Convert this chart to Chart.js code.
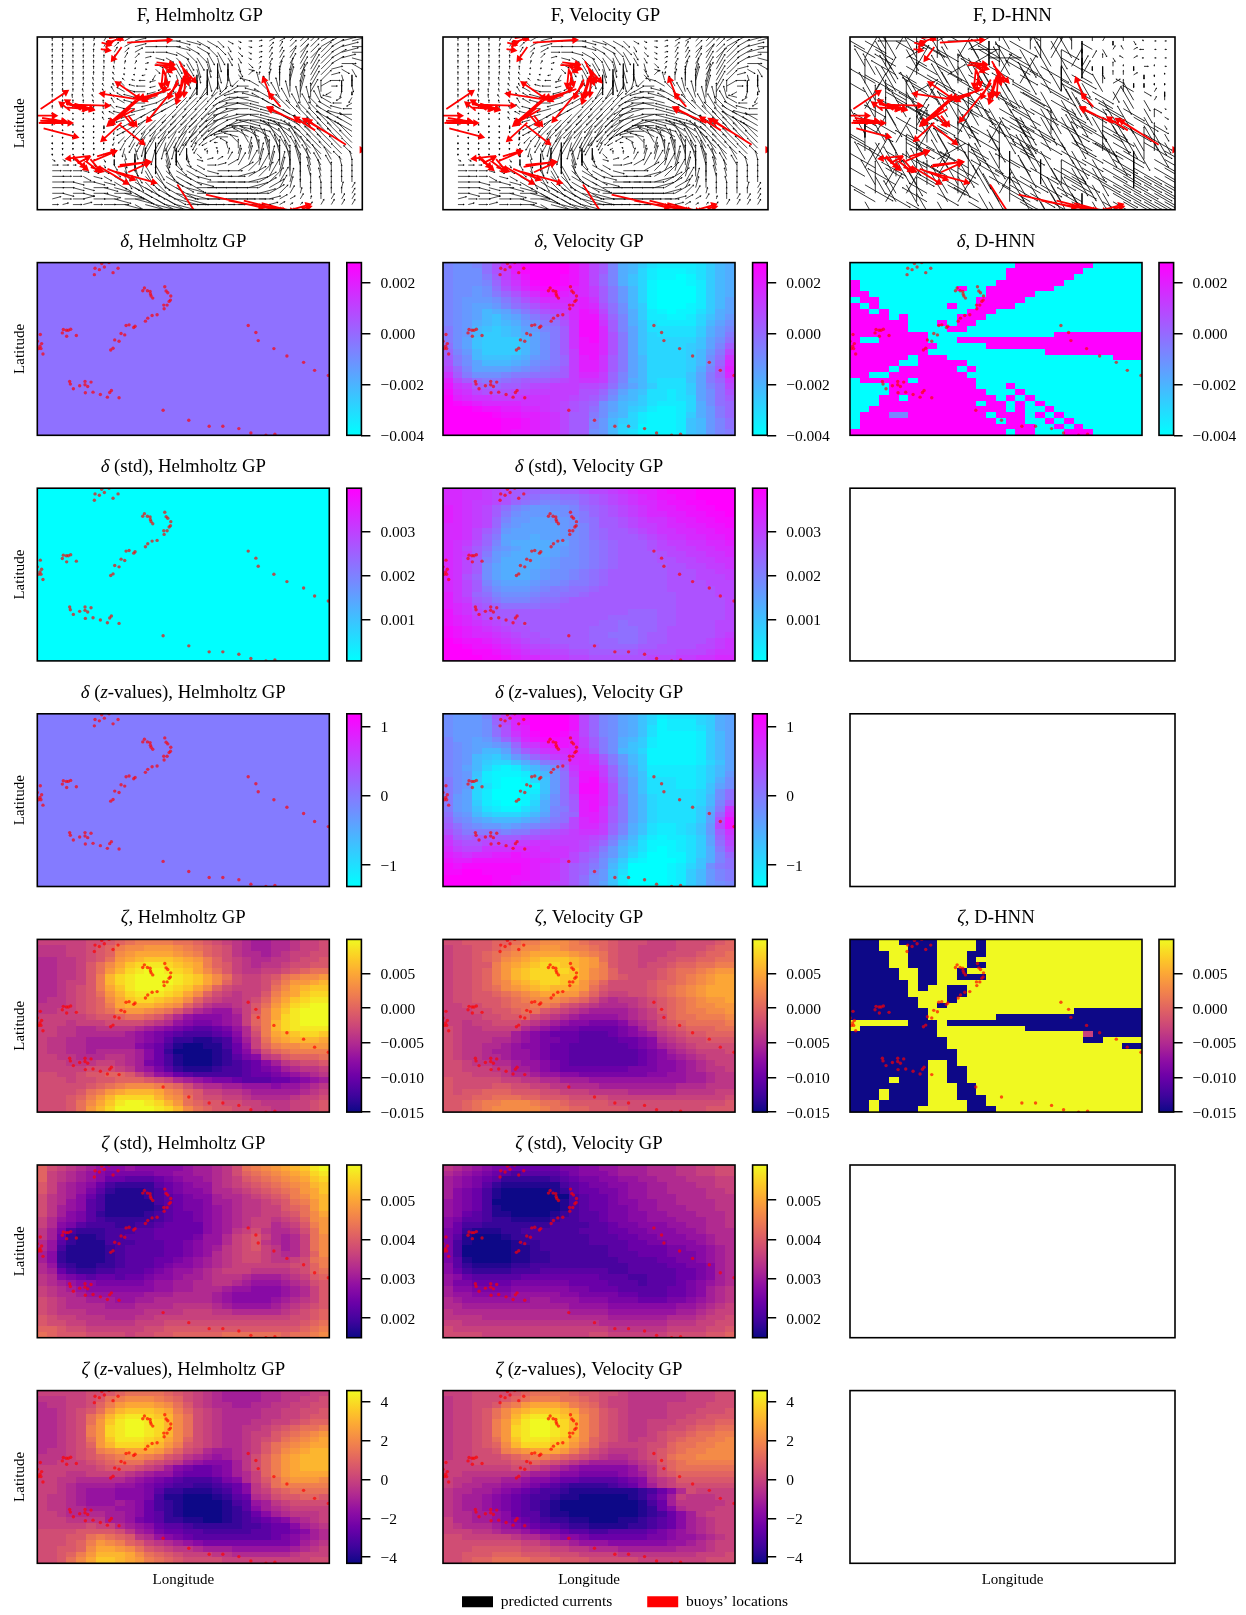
<!DOCTYPE html>
<html><head><meta charset="utf-8">
<style>html,body{margin:0;padding:0;background:#fff;width:1246px;height:1615px;overflow:hidden;position:relative}canvas{position:absolute}</style>
<script src="https://cdn.jsdelivr.net/npm/chart.js@4"></script></head><body>
<script>
// Levels: a = bottom of the colour bar, z = top of the colour bar (30 x 30 cells, spaces ignored).
const ZETA_H=["mmmmm nnopq rrrrq qponm lkjjk klmmn","lllmm noprs sttts rqpon lkjjk klmmn","lllmm nopst uuuut srpon lkkjk lmmnn","kkllm noqtu vwwwv utrpn mlkkl lmnno","kkllm oqsuw xyyxw vurpo mlkll mnnoo","kkllm oqtvx yzzyx wusqo mllmm nopqq","kkllm orvxy zzzzy xwusq nmmno qrsst","kklmm orvxy zzzzy xwusp nmmnp rttuv","kklmn oruwy zzzyx wuspn mmmnq suvww","kklmn oqtvx yyyxw uspnm lmmor tuwxx","kllmn opsuw xxwvu spnml lmnps uwxyy","lllmn opruv vvuts pnlkk lmoqt vxyzz","llmmn opqst tsrqo mkjii kmoru wyzzz","mmmmm noopq qpomk ihhhi jmpru xyzzz","mmmlm mmnnn nmlki hgghi jmprv xyzzz","mmllk kllll kjihg feefg ikorv xyyyy","mmllk kkkkj ihgfe dddef hknru vwxxw","mllkk jjjjj ihgec cbbcd gjmqt uvvvu","mllkk jjjjj hgfdb aabbd fimpr ssttt","mllkk jkkkk jhfca aaabc fhknp qrrrr","mmllk kkllk jhfdb aaabc eghlm opppq","mmmll lmmlk jgfdb aaabc defhj lmnno","mmmmm nnnml jigec bbbcd defgh jkllm","nnmmn ooppo mkihf edddd deffg hijkl","nnnmn noopp ponmk jihgg feeef fghij","nnnnn opqrs ssrqp nlkkj jiiih iijkl","nnnno qrtuv vvusr pomml lkjjj jjklm","nnnop rtvxx xxvts qonnm mlkkk klmmn","nnnoq suwyz zyxvt qpoon nmmll lmmno","nnnoq tvxzz zzyxv sqpoo nnmml lmmno"];
const ZETA_V=["nnooo ppqrr sssrq pponn nmmmn nnnop","mnnoo pqrss ttsrr qponn mmmmn nnopp","mnnop qrstu uuuts rqonn mmmnn noppq","mnnop qstuv wwwvu tqonn mmnno oppqq","mnnoo rtuvw xxwvu tronn mnnop pqqrr","mnnop rtvwx xxxwu srpnn nnopq qrstt","mnnop rtvwx xxwwu srpon nnopq rstuu","mnnop rsuvw xxwvt rpnnn noppq rstuu","mnnop qstuv wvvut qonnn nopqr stuuu","mnnoo pqrst uuttr pnmmn nopqr stuuu","mnnoo opqrs ssrqp nlkll mnopq rsttu","mmnno opqqr rqonm lkkkl mnopq rsstt","mmmnn oopqq onmlk jjjjk lmopq rrsst","mmmmn noopn mlkji iiijk lmnpq qrrrs","mmlmm nnnml kjihh ggghj klnop qqqqr","nmllm mmmkj ihggf fffgh jlmno pppqq","nmlll lljih gfffe eefgh ijlmn ooppp","nmlll kkjih ggffe eeeff ghklm nnooo","nmllk kjihh gffee eeeef ghjkl mnnnn","nmllk jjiih gffee eeeee fghjk lmmmn","nmllk kjiih gffee eeeee fghij klmmm","nnmll kkjii hgfee eeeee fghhi jklmm","nnmmm lljji hgfff ffffg gghhi jkllm","nnnmm mlkkj iihhg ggggg ghhii jjkll","onnnn nmmll kkjjj iiiii iiiii jjkll","onnnn oonnm mllkk kjjjj jjjjk kklll","onoop ppooo nnmmm llllk kkkkl lllmm","ooopp qqqpp ooonn nnmmm mmmmm mmmmn","oopqr rsssr qqpoo oonnn nnnnn nnnno","oopqr sssss rqqpp oooon nnnnn nnooo"];
const ZSTD_H=["pnmlk jihhi hhhhh ijjkl nqrst uvwyz","pmlkj ihggg gghhi ijjkl npqrs tuvxy","pmlkj ihffe eefgh iijkl mopqr stuwx","omkji hfdcc ccefg hiikl mnopq rstvw","omkji gecbb bcdfg hhikk lmnop qrtuw","nlkjh fdbbb bcdef ghhjk klmno prsuv","nlkih edbbb bbdef gghjj kllmn oqrtv","nljih edbbb bbcef gghij kllmm opqtv","nljhg ecbbb bcdef fghij kllmm noqsu","mkihg edccc ccdef fghij klmml mnpst","mkhge dddcc ddeff ffhij klmmk lmort","ljgdc ccddd eefff ffhij lmnlk klnqt","ljfcb bcdde eefff fgiik mnomk jkmqs","kiecb bbddd eeeff ghiik mnolk jkmqs","kidbb bbcde eeeff ghijl mnoml jkmqs","jhcbb bbcde eeeff ghikl mnnml kkmps","jhcbb bbcde eeffg hijkl mnnml lmnqr","kidcb bccde eefgh hijkl mmmmm mnnpr","kjfdc cddee efghi ijklm mmlll lmnpq","lkhgf effef fghhi jjkll lkjjj klmop","lkjih hgggg ghiij jkkll kjiii jklno","mlkji hhhhh hhiij jkkkj iihhh ijkmo","mlkkj iiiii ijjjk kkkji hhhhh ijkmo","nmlkk jjjii jjkkk kkkji hhhhi jklmo","nmlkk kkjjj kkkkl lllkj iiiij klmno","nmlll kkkkk kllll mmmll kkkkk lmnop","onmml llkkk llmmm mmmmm mmmmm mnnop","onnmm lllll mmmnn nnnnn nnnnn nnopq","pponn mmmmm mnnoo ooooo ooooo oopqr","qpooo nnnnm nnoop ppppq qqqqq pqqrs"];
const ZSTD_V=["lkjih ggfff ffggh hiijj jkkkl lmmnn","kjihg fedee eefgh hhijj jkkkl lmmnn","jihgf ecccc cdefg ghhii jjkkk lllmm","jihge cbbbb bbdef gghhi ijjkk kllmm","jhgfd baaaa abcef fgghi ijjkk kkllm","jhgfd baaaa aaade ffghi ijjjk kklll","ihgfd aaaaa aabde ffghh iijjk kkkll","ihgfd baaaa aabde ffggh iijjj kkkll","ihfed bbaaa abcde efggh hiijj jkkkl","hgeed ccbbb bcdde efggh hiiij jjkkl","hfddc ccccc cdddd eefgg hhhii jjkkl","gfcbb bccdd dddde eeffg ghhhi ijkkk","gebaa abccd ddddd eeeff gghhh iijkk","gdbaa aabcc ddddd eeeef fgghh hijkk","gdaaa aabbc ddddd ddeef fffgg hhijk","gdaaa aabbc cdddd ddeee fffgg ghijk","gebaa aabbc cdddd dddee eeffg ghijk","hecbb bbccd ddddd dddde eeeff gghjk","hfdcc ccddd eeeee eedde eeeef fghjk","ihfee eeeff fffff feeed deeef fghjk","iggff ffggg gggff ffeee deeef ghijk","jhhgg gghhh hhhgg fffee eeeff ghjkl","jiihh hhiii iihhg gggff eeeff ghjkl","kjiii iiiij jiiih hhggg fffgg hijkl","kkjjj jjjjj jjjii iihhh hhhhi ijklm","lkkkk kkkkk kkkjj jjiii iiiij jklmm","llllk kkkkk kkkkk kkjjj jjjkk klmmn","mmlll lllll lllll lkkkk kkkll lmmnn","nmmmm mmmmm mmmmm mmlll lllmm mmnno","nnnnm mmmmm mmmmm nnmmm mmmnn nnoop"];
const ZZ_H=["mmmmm nnopq qqqpo nmlkj jjjkk lllmm","lllmm noqrs ssrqp nmlkj jjjkk llmmn","kllmm nprtu uutsq omlkk jjkkl lmmnn","kklmn oqtvw wwvur pnmlk kkkll mmnno","kklmn qsvxy yxwvs qnmlk kkkll mmnoo","kklmn qtwyz zyxvs qnmlk kkllm mnopp","kklmn rtxyz zyxvs qnmlk kllmn opqqr","kklmn rtxyz zyxvs qnmlk klmmo pqrst","kklmn qtwyy yxwus pnmlk klmno qrstu","kklmn ptvxx xwvtr onmlk klmoq rstuu","kllmn orstu uutrp nmkjj klmoq stuvv","lllmn opqrs srqon lkjij klnpr tuvvv","llmmm nopqq qonml jihhh jlnpr tuvvv","mmmmm mnooo nmljh gffgh jlnpr tuvvv","mmmll mmmml kjiig fffgh jkmpr tuuuu","mmllk kkkkj ihgfe dddeg hkmoq sttts","mmlkj jjjii hgfed dccde fhlnq rrrrr","mmlkj iiihh hgecc bbbcd fhlmo pqqqq","mllkj iiihh hgdbb aaabc efkln ooppo","mllkj iiiji hfdcb aaaab deijl mnnnn","mllkk jjjii hfdcb aaaab cehjk lmmmm","mmlkk kkjji hfecb aaaab cdfhj klllm","mmmll lljji gfecc bbaab cdefg hjklm","mmmmm nmmkj ihfee dcccc cddef fhjkl","nnnno ooonl jigff eeddd ddeef fghjk","nnnoo qrqpo lkihg feeee eeeef ghijk","nnnop rtsrp omlkj ihggg ggggg ghjkl","nnoop suuts qonml lkjjj iiiii ijklm","nnopr tvvvu sqpon mmmll kkkkk klmmm","nnoqs uwwvu trqpo nnnnm mmmmm mmmnn"];
const ZZ_V=["mmmnn nnopq qqqpo onnml lllll mmmnn","lmmnn nopqr rrqqp onmml lllll mmmnn","lmmnn oqrtu uutrq pnmml lllmm mmnnn","lmmno qsuvw wwvur qonml lllmm mnnno","lmmno qsvxy yxwvs qonml lllmm nnooo","lmmno rtwyz zyxvs qonml lmmmn noopp","lmmno rtxyz zyxvs qonml lmmnn oppqq","lmmno rtxyz zyxvs qonml lmnoo pqqrr","lmmno qtwyy yxwus ponml mmnop qqrrs","lmmno psvxx xwvtr pnmmm mnnpq qrrss","lmmnn orstu uutrp nmlll mnopq rrsss","lmmnn nopqr rqpon mlkkl mnoqr rssss","mmmnn nnoop onmlk jjjjk lmopq rrrrr","mmmmm mmnnm lkjih hhhhi klnpq qqqqq","mmlll lllkj jihhg ggghi jlnop ppppp","mllkk kjjih hgffe eeefg hklmo ooooo","mlkkj jiihg fedcc ccdef hjlmn nnnnn","lkkjj ihgfe ddcbb bbbbb cdfhk nmmmm","lkjji hgfed dcbba aaaab cegjm lllmm","lkjji hgfed cbaaa aaaaa bdfjl llllm","lkjji hgfed cbaaa aaaaa bcfhk lllmm","lkkjj ihfee cbbaa aaaaa bcdfh jlmmm","mkkjj ihgfe dccbb aaabb cdefh jklmm","mlkkk jihgf eedcc bbbbc cdefh jklmm","mmmll kjjih ggfee ddeee efghi jklmm","nnmmm mmlkk jihhg fffff fgghi ijklm","nnnnn nnnmm lkkji iihhh hhhii jklmm","nnnoo ooonn nmmll kkkjj jjjjk kklmm","nnooo pppoo onnnm mmmll lllll lmmmn","nnopp qqqqp ppooo nnnnn mmmmm mmnnn"];
const DELTA_V=["mllmo ruwyz zzzxv sqmih fdccc cdfhi","mlllo rtwyz zzzxv sqmih ecbbb cdfhi","mllln qtvxz zzyxv spmig ecbba bdfhi","mlllm psuwy zzyxv spmig ebaaa bcfhi","mllkl ortvx yyxwv tqnkh ebaaa acfhi","mllkl nprtv xxwvv tqnkh ebaaa acfhi","mlkkk lnprt vvvvw uqnkh ebaaa acfhj","mlkjj kmopr tuuvw vrolh fbaaa bcfhj","mlkjh ijlnp rstvx wsoli fcbab bdfij","mlkjh gijln pqsvx xtpmi fccbb cegik","mlkih ghikl noruy yuqmi gdccc cehjl","nlkhg fghjk mnquy yvqmj gdddd dfikm","nlkhf fghij lnquy yvrnj geddd dfikn","nljgf fffhj lnqux yvrnj geeee egjlo","oljgf fffhj lnqux xvrnj geeee fgjmq","pmkhf fffhj lnqtx xvrnj geeee fhkns","qnlhg gghik lnptw xuqnj heeee fhlou","rnljh hhijl mnptw wuqnj heeee fhlpv","spmjj jjklm noqtw wuqnj heeee fimqw","uqnll lmnno opqtv vtpmj heeee gjnqv","wsqon nopqq qrstu utpmi heddd gjnpt","xutqp pqqrs sttts srolj hfddd fjmos","yvusr rrsst ttttr rpmjh gddcd fjlor","zwvuu tttuu uttsr qolih fddcd ejloq","zyxwv vvvuu utsrq pljhg fdccc eilop","zzzyx xwwvv utsrq oljhf ecbbc eiknp","zzzzz yxxww vusqq nlihe cbbbc fiknp","zzzzz zyyxw vusqq mkhfe cbbbc ghkmo","zzzzz zyyxw vusqq mkhee bbbbc ghkmo","zzzzz zyxxw vusqq lkhed bbbbc ghkmn"];
const DZ_V=["lkkkm qtwyz zzzxs pmlji gecdd defij","lkkkl psvxz zzzxs pmlji gebcc cefij","lkkkl orvwz zzzxs pmlji gdbcc cdfij","lkkkl oruwy zzyws pmlji gdbbb bcfhj","mkkjk mpsvx yyxwt qnlih fcbbb bcfhj","mlkjj klptu wxxwt qnlig fcbbb bcfhj","mlkjh hjnqs uvvwu rnlhg ebbbb bcfhj","mlkhg fhkmp rtuvv uqnkh fbbbb bcfhj","mlkhf eegik norvw vrnkh fbbbb bcegj","mljhe cbcfh jlpuw wtpli fcccc cdfhj","mlkgc bbbcf hkotx xtpli gcccc cdfhk","nlkfc baabe gkosx yuqmj gdddc cdfil","nlked baaab gkosy yvrmj gdddc cdgjl","nljec aaabc gkosy yvrmj gdddd deglo","nkjec aaabd hlorx xvrnj heddd dehlo","nkjfc baabe iloqw xvrnj heddd dehmq","nkjgd cbbdf imnqw xuqnj heddd dfinu","olkhf eeefh jmopw wuqnj heddd dfjpv","pmlji hhhij lnosv wuqnj heddd dfjrx","qomlk kjklm noqsv vtpmi gdccd egksx","rpnnn nmnnp qrstu utpmi gdccd egkqu","tqpqq qqqrr ssttt srnkh ecbcc dfjpt","usrrs ssttu uttts rpmig dbbbc dfjos","vtssu uuvvv uuuts qnkhf dbabc dfinr","wvuvv wwxwv vuusq pmkhe caabb dfimp","xwwxx xxxxw wvtsq olifc baaab dgimo","yxyyy yyyxw vusqp nlhea aaabc eglno","yyzzy yyyxw vusqp mkgda aaabc fhkmn","zzzzz yyxxw vusqo lkgca aaabc fhkmn","zzzzz yyxww vtsqo ljgca aaabc fhklm"];
const DSTD_V=["vvuut srqqp ppqqr sstuv wwxyy yzzzz","vvuut srqpo nnoop qrstu vwxxy yzzzz","vvutt srpon mmnnp qrstu vvwxx yyzzz","wvuts qomlk kllmo pqrst uvwwx xyyzz","wvuts qnlkk kklmn pqrst uvvww xxyyz","wvuts pmkkj jkkln oqqrs tuuvw wxxyy","vvuts plkjj jjklm oqqrs ttuvv wwxxy","vvusq okjjj jjklm opqqr stuuv vwwxx","vvusp njjji jjklm opqqq rstuu vvwwx","vutrp mjiii ijjlm nopqq qrstt uuvvw","vusqo lkjii ijklm nopqq qrsst tuuvv","vutqn kjiii ijklm nopqq qqrss ttuuv","vusqm kiiii jkllm nopqq qqrrs sttuu","vusql jiiii jkllm nopqq qqqrr ssttu","vusql jiiij kllmn opqqq qqqrr rsstt","vurpl jiiij kllmn opqqq qqqrr rssst","vusqm kjjjk llmnn opqqq qqqrr rrsss","vusqn lkkkl mnnoo pqqqq qqqrr rrrss","wuspo mlllm nnoop qqqqq qqqqr rrrss","wutqp nmmmn oopqq qqqqq qqqqr rrrrs","wvurq poooo ppqqq qqqqq qqqqr rrrrs","xvusr qqqqq qqqqq qqqqp ppqqr rrrrs","xwvtr qqqqq qqqqq qqppp ppqqr rrrrs","xwvut srrqq qqqqq qppop ppqqr rrrss","yxwvu tsrrq qqqqq pppoo ppqrr rrrss","yxwvv utsrr qqqqq ppooo pqqrr rrrst","zyxxw vutsr rqqqq pppoo pqqrr rrstu","zzyxx wvuts srrqq qpppp qqrrr rsstu","zzzyy xwvut tssrr qqqqq rrrrs sstuu","zzzzy yxwvv uttss rrrrr rssst tuuvv"];
const DELTA_D=["aaaaa aaaaa aaaaa aazzz zzzzz aaaaa","aaaaa aaaaa aaaaa azzzz zzzza aaaaa","aaaaa aaaaa aaaaa azzzz zzzaa aaaaa","zaaaa aaaaa aaaaa zzzzz zzaaa aaaaa","zaaaa aaaaa azaaz zzzzz zaaaa aaaaa","zzaaa aaaaa aaaaz zzzza aaaaa aaaaa","azzaa aaaaa aaazz zzzaa aaaaa aaaaa","zazaa aaaaa zaazz zzaaa aaaaa aaaaa","zzaza aaaaa aazzz aaaaa aaaaa aaaaa","zzzza zaaaa azzza aaaaa aaaaa aaaaa","zzzzz zaaaz azzaa aaaaa aaaaa aaaaa","zzzzz zaaaa zzaaa aaaaa aaaaa aaaaa","zzzzz zzzaa aaaaa aaaaa azzzz zzzzz","zaazz zzzaa azzzz zzzzz zzzzz zzzzz","zzzzz zzzza aaaaz zzzzz zzzzz zzzzz","zzzzz zzzaa aaaaa aaaaa zzzzz zzzzz","zzzzz zazzz aaaaa aaaaa aaaaa aazzz","zzzzz aazzz zzaaa aaaaa aaaaa aaaaa","zzzza zzzzz zazaa aaaaa aaaaa aaaaa","zzaaz zzzzz zzaaa aaaaa aaaaa aaaaa","azzzz zazzz zzzaa aaaaa aaaaa aaaaa","aaaaz zzzzz zzzaa azaaa aaaaa aaaaa","aaaaz zzzzz zzzza aazaa aaaaa aaaaa","aaazz azzzz zzzzz azaza aaaaa aaaaa","aaazz zzzzz zzzaz zazaz aaaaa aaaaa","aazzz zzzzz zzzzz zazaa zaaaa aaaaa","azzzm mzzzz zzzza zzzaz azaaa aaaaa","azzzz zzzzz zzzzz azzaa zazaa aaaaa","azzzz zzzzz zzzzz zzzza azaza aaaaa","zzzzz zzzzz zzzzz zazza aazzz aaaaa"];
const ZETA_D=["aaazz aaaaz zzzaz zzzzz zzzzz zzzzz","aaazz zaaaz zzzaz zzzzz zzzzz zzzzz","aaaaz zaaaz zzaaz zzzzz zzzzz zzzzz","aaaaz zaaaz zzazz zzzzz zzzzz zzzzz","aaaaz zaaaz zzaaz zzzzz zzzzz zzzzz","aaaaa zzaaz zazzz zzzzz zzzzz zzzzz","aaaaa zzaaz zaaaz zzzzz zzzzz zzzzz","aaaaa azaaz zzzzz zzzzz zzzzz zzzzz","aaaaa azazz aazzz zzzzz zzzzz zzzzz","aaaaa azzzz aazzz zzzzz zzzzz zzzzz","aaaaa aazzz azzzz zzzzz zzzzz zzzzz","aaaaa aazza zzzzz zzzzz zzzzz zzzzz","aaaaa aaazz zzzzz zzzzz zzzaa aaaaa","aaaaa aaazz zzzzz aaaaa aaaaa aaaaa","zzzzz zaaaz aaaaa aaaaa aaaaa aaaaa","zaaaa aaaaz zzzzz zzzaa aaaaa aaaaa","aaaaa aaaaz zzzzz zzzzz zzzzm aaaaa","aaaaa aaaaa zzzzz zzzzz zzzza azzzz","aaaaa aaaaa zzzzz zzzzz zzzzz zzzaa","aaaaa aaaaa azzzz zzzzz zzzzz zzzzz","aaaaa aaaaa azzzz zzzzz zzzzz zzzzz","aaaaa aaazz azzzz zzzzz zzzzz zzzzz","aaaaa aaazz aazzz zzzzz zzzzz zzzzz","aaaaa aaazz aazzz zzzzz zzzzz zzzzz","aaaaz aaazz aazzz zzzzz zzzzz zzzzz","aaaaa aaazz zaazz zzzzz zzzzz zzzzz","aaaza aaazz zaazz zzzzz zzzzz zzzzz","aaaza aaazz zaaaz zzzzz zzzzz zzzzz","aazaa aaazz zzaaz zzzzz zzzzz zzzzz","aazaa aazzz zzaaa zzzzz zzzzz zzzzz"];
// Helmholtz panels show one nearly flat value.
const DELTA_H_VALUE=-0.0002, DSTD_H_VALUE=0.00006, DZ_H_VALUE=-0.02;
// Predicted currents: bearing in 15-degree steps (a up, g right, m down, s left) and length step.
const FIELD_DIR=["aaaab cdefg gghhi ijiig feedd deeff","aaaab cdefg gghii jjkjh fdcdd deefg","aaaaa bcdeg ghijj kkkji fccdd ddefg","aaaaa abcdf hijkk llkki ecccc ddefh","aaaaa aabcf ijkkl lmmlj dcccc cdegi","aaaaa axabg jkkll mlmkh cbbbc cdfik","aaaaa xwwtr olllm lmljd bbabc cdflm","aaaax xwvts ronnm mlnpt xaabb cdgmm","aaaax wwvts rqpoo oopqs uwaab cegml","aaaxx wwuts rrqqp ppqrs tvxab caqnm","aaxxw wvuts rqqpp ppqrs tuwxa axtqo","aaaax xwuts rqqpp ppqrs tuvwx xwusq","aaaaa xvtsr qqppp ppqrs ttuvw wvuts","aaaaa wutrq qpppp ppqrr sttuv vvuts","aaaaa wtrqp ppppp ppqqr sttuu vvuuu","aaamm mtqqp pppoo ppqrs ttttu uvvuu","aammm mnqpo oooop pqrst ttuuu vvvvu","ammmm mnpoo ooooo pqstu uuvvv vvvvv","mmmmm nooon mnnoo qsuvw wwwww vvvvv","mmmll nmnlm nlmmo qtxab xxwww vvvvv","mmlmm nmlmn mlmlj aabbb axxww wvvvv","iiiii kmlmn mlkkh fecbb baaxx wwwvx","gggii kkllk kkjii gfecc bbaax xwwxa","ggghi ijkkk kjiii hgged cbbaa xxaaa","gggih iikkj jiiih gggfe dcbaa xxaaa","gghgh hiiij jiiih ggggf edcba axaaa","gghhg hhiii iiihg ggggf eecba aaabc","ghghg hghii iihhg ggggg fedcb aaaac","fggfg ghghi iihhg ggggg gfeec baccc","gfgfg gghih hhhgg ggggg gfeed ccccc"];
const FIELD_LEN=["11111 22344 55555 43211 12234 45555","11111 22344 45555 54211 12234 45566","11111 12233 44555 55321 12234 45566","11111 11222 33455 55321 12345 56655","11111 11111 33455 55432 12345 66554","11111 11000 23455 65432 12345 66433","11111 11001 23455 65432 12345 66322","11111 11112 23445 54333 33456 65322","11111 11223 23445 54444 44566 64222","11111 12334 33445 55555 55566 54221","11111 22344 44456 66677 66666 54322","11111 12345 55677 88888 87666 65432","11111 12345 67788 99998 87776 66543","00000 12456 78899 99998 87777 66654","00000 12356 78999 98888 87777 76665","00000 12356 78998 87777 77788 77766","00000 01356 78887 65566 77888 87777","00000 01346 77764 43456 77888 88777","00000 01345 66653 21345 67888 88776","00000 01345 66542 10234 67788 87765","00000 01234 55432 11234 56777 77654","11000 12345 55432 22345 67777 66543","22111 12345 66543 33456 67777 65432","33322 23456 76654 44566 77776 54322","43333 34567 77665 55667 77765 43222","44444 45677 77776 66677 77654 32222","44445 56778 88877 77777 76543 22222","44445 66778 88888 77777 66432 22222","33444 56778 88888 77766 54322 12222","22333 45667 77777 66655 43211 12222"];
// D-HNN currents: clock direction (0 up, 3 right, 6 down, 9 left, a=10, b=11) and length step.
const DHNN_DIR=["45b49 4a23a 5b604 b1a50 b6016 05a33","a4b15 0a4b5 24a9b 50b14 06a51 b2933","1a5b2 b40a1 5b3a4 a5014 b6105 a2933","b50a4 1a4b5 2a40b 5a4b6 11660 06303","4b1a5 04a2b 45a1b 4a5b0 41a50 02660","0a4b1 a54b0 a4b5a 1b4a4 b5a02 a6666","a14b5 2a4b4 5a45b 4a54b 5a4b5 0a416","5b04a b1a5b 45ab4 54a45 b4a51 5b510","1b5a0 4a2b5 4a545 b45a4 54b5a 4b544","60a4b 1a4b5 0a454 5a545 4b545 a4504","4a0b5 1b4a0 5b454 54a54 54b45 4a545","b15a4 0b5a1 4a5b4 5a40b 54a54 5b455","a5b14 a0b4a 5b1a4 5b4a5 4b454 a5455","0a4b5 1a4b0 4a5b6 4a5b4 54a05 46b04","b1a50 4b2a5 b4a04 5b6a4 54544 a6044","1a4b5 0a1b4 a5b05 a4b54 54544 44a44","a5b0a 4b1a5 0b4a5 4b545 45444 44444","4b1a5 b0a4b 1a5b4 a5450 4a544 44444","a04b1 5a4b0 a5b14 54a54 56a54 44444","5a1b4 0a5b1 4a5b0 4a54b 4a544 44444"];
const DHNN_LEN=["68757 86758 67658 57686 53321 11000","75886 57687 86577 86755 64321 11100","86675 77586 75868 75686 75211 11000","57868 65786 86757 86876 53121 01100","86575 78658 67868 57586 74311 11100","67886 56787 58675 86867 54322 21100","85678 67586 76868 75875 86653 33211","68576 85768 67687 86878 57654 45311","76857 68657 86878 78687 87875 66420","58687 56786 78687 87878 78767 77521","86758 67587 68787 87878 87878 88741","75868 75687 86878 68767 78686 78862","68578 68757 68687 87686 78775 68873","87657 86587 57868 75867 86587 68774","56876 75868 67586 87678 76687 87885","78568 67585 86758 78687 87878 88886","65867 58676 87687 86878 87888 78888","87586 76857 68768 78686 78788 87889","68757 85687 76868 87878 68887 88989","76868 67586 87687 68787 77888 89999"];
// Buoys, in map units, and their observed drift (map-plot units, one third of a pixel).
const BUOY_LON=[245,267,225,238,253,294,279,223,373,368,382,390,391,393,398,434,438,443,452,451,447,441,431,432,411,396,383,376,345,341,327,318,303,314,284,297,279,272,130,127,139,145,152,140,169,61,65,52,60,63,56,69,195,149,151,160,179,195,203,213,196,219,241,262,269,274,297,429,506,567,608,656,692,737,764,684,707,714,761,800,850,883,924];
const BUOY_LAT=[33,30,47,51,43,47,60,66,106,114,114,116,124,130,136,102,115,120,130,142,146,157,157,168,186,188,196,205,220,224,216,218,242,246,261,265,286,291,230,240,232,232,229,250,248,245,272,265,280,287,287,303,385,385,393,407,398,395,400,387,419,417,424,432,418,412,434,471,501,519,519,526,539,546,543,218,239,263,287,309,328,352,367];
const BUOY_DX=[35,10,20,12,26,125,-25,20,45,50,40,20,-5,10,-5,30,40,15,-5,-25,-20,-5,-25,-90,-85,-60,-55,-60,-130,-80,-90,-75,-55,-70,25,20,-55,70,55,60,65,105,50,-25,-40,75,65,50,70,85,50,95,-65,30,35,30,40,25,60,50,30,80,75,115,88,85,55,55,165,160,120,90,60,48,20,-24,-30,-40,-90,-55,-85,-110,2];
const BUOY_DY=[-5,5,5,-5,-10,-8,35,3,5,0,10,15,50,40,50,55,45,45,70,80,60,45,50,110,25,30,15,5,-20,-55,75,65,45,40,30,25,50,55,15,5,15,3,15,-20,-25,-50,10,0,2,0,-5,25,8,30,30,-15,30,30,-25,-15,10,48,30,32,-14,-8,-25,85,38,30,30,25,12,-14,-5,-60,-35,-20,-40,-35,-50,-70,0];
const LON_MIN=52, LON_MAX=927, LAT_MIN=30, LAT_MAX=546;
// Colour-bar ranges and ticks.
const DELTA_RANGE=[-0.004,0.0028], DELTA_TICKS=[-0.004,-0.002,0,0.002];
const DSTD_RANGE=[0.00006,0.00399], DSTD_TICKS=[0.001,0.002,0.003];
const DZ_RANGE=[-1.31,1.18], DZ_TICKS=[-1,0,1];
const ZETA_RANGE=[-0.015,0.0099], ZETA_TICKS=[-0.015,-0.01,-0.005,0,0.005];
const ZSTD_RANGE=[0.0015,0.00589], ZSTD_TICKS=[0.002,0.003,0.004,0.005];
const ZZ_RANGE=[-4.32,4.58], ZZ_TICKS=[-4,-2,0,2,4];
const SERIF='"Liberation Serif","Times New Roman",serif';
Chart.defaults.animation=false; Chart.defaults.events=[];
Chart.defaults.font.family=SERIF; Chart.defaults.color='#000';
Chart.defaults.plugins.tooltip.enabled=false; Chart.defaults.plugins.legend.display=false;

const ROW_Y=[37,262.6,488.2,713.8,939.4,1165,1390.6], PLOT_H=172.7;
const COL_X=[37.3,443,850], HEAT_W=292, WIDE_W=325, CB_X=[346.8,752.6,1159], CB_W=14.6;
const PLASMA=['#0d0887','#41049d','#6a00a8','#8f0da4','#b12a90','#cc4778','#e16462','#f2844b','#fca636','#fcce25','#f0f921'];
const hex=h=>[1,3,5].map(i=>parseInt(h.substr(i,2),16));
function plasma(t){t=Math.min(1,Math.max(0,t))*10;const i=Math.min(9,Math.floor(t)),f=t-i,a=hex(PLASMA[i]),b=hex(PLASMA[i+1]);
 return `rgb(${a.map((v,k)=>Math.round(v+(b[k]-v)*f)).join(',')})`;}
function cool(t){t=Math.min(1,Math.max(0,t));return `rgb(${Math.round(255*t)},${Math.round(255*(1-t))},255)`;}
const cells=new Map();
function cellImage(color){const w=Math.ceil(HEAT_W/30),h=Math.ceil(PLOT_H/30);if(!cells.has(color)){const c=document.createElement('canvas');c.width=w;c.height=h;const g=c.getContext('2d');g.fillStyle=color;g.fillRect(0,0,w,h);cells.set(color,c);}return cells.get(color);}

function heatPoints(rows,range,map,flat){const pts=[];const n=30,[a,b]=range;
 for(let r=0;r<n;r++){const row=rows?rows[r].replace(/ /g,''):'';
  for(let c=0;c<n;c++){let v=flat;
   if(rows){const ch=row[c]||row[row.length-1];v=a+(ch.charCodeAt(0)-97)/25*(b-a);}
   pts.push({x:LON_MIN+(c+.5)/n*(LON_MAX-LON_MIN),y:LAT_MIN+(r+.5)/n*(LAT_MAX-LAT_MIN),color:map((v-a)/(b-a))});}}
 return pts;}
function arrowDataset(pts,color,width,head,order){return {data:pts,showLine:true,spanGaps:false,borderColor:color,borderWidth:width,order,
 pointRadius:c=>c.raw&&c.raw.head?head:0,pointStyle:'triangle',pointBackgroundColor:color,pointBorderWidth:0,
 pointRotation:c=>c.raw&&c.raw.rot||0};}
const lonPx=(LON_MAX-LON_MIN)/WIDE_W, latPx=(LAT_MAX-LAT_MIN)/PLOT_H;
function pushArrow(pts,x,y,dxPx,dyPx){pts.push({x,y},{x:x+dxPx*lonPx,y:y+dyPx*latPx,head:true,rot:Math.atan2(dxPx,-dyPx)*180/Math.PI},{x:NaN,y:NaN});}
function fieldArrows(dirRows,lenRows,unit,angle){const pts=[],nr=dirRows.length;
 for(let r=0;r<nr;r++){const d=dirRows[r].replace(/ /g,''),l=lenRows[r].replace(/ /g,'');
  for(let c=0;c<30;c++){const th=angle(d[c]),len=(+l[c]||.35)*unit;
   pushArrow(pts,LON_MIN+(.046+.0318*c)*(LON_MAX-LON_MIN),LAT_MIN+(.023+(r/nr)*.98)*(LAT_MAX-LAT_MIN),len*Math.sin(th),-len*Math.cos(th));}}
 return pts;}
const bearing=ch=>(ch.charCodeAt(0)-97)*Math.PI/12, clock=ch=>parseInt(ch,16)*Math.PI/6;
function buoyArrows(){const pts=[];BUOY_LON.forEach((x,i)=>pushArrow(pts,x,BUOY_LAT[i],BUOY_DX[i]/3,BUOY_DY[i]/3));return pts;}
const buoyPoints=()=>BUOY_LON.map((x,i)=>({x,y:BUOY_LAT[i]}));

const panelText={id:'panelText',afterDraw(ch,_,o){const a=ch.chartArea,g=ch.ctx;g.save();
 g.strokeStyle='#000';g.lineWidth=1.6;g.strokeRect(a.left,a.top,a.width,a.height);g.fillStyle='#000';
 if(o.title){const parts=o.title.split('*');const fn=i=>`${i%2?'italic ':''}18.8px ${SERIF}`;let w=0;
  parts.forEach((p,i)=>{g.font=fn(i);w+=g.measureText(p).width;});
  let x=(a.left+a.right)/2-w/2;g.textBaseline='alphabetic';g.textAlign='left';
  parts.forEach((p,i)=>{g.font=fn(i);g.fillText(p,x,a.top-16);x+=g.measureText(p).width;});}
 g.font=`15px ${SERIF}`;g.textAlign='center';
 if(o.xlabel){g.textBaseline='alphabetic';g.fillText(o.xlabel,(a.left+a.right)/2,a.bottom+21);}
 if(o.ylabel){g.translate(a.left-17.5,(a.top+a.bottom)/2);g.rotate(-Math.PI/2);g.textBaseline='middle';g.fillText(o.ylabel,0,0);}
 g.restore();}};

function addCanvas(x,y,w,h){const c=document.createElement('canvas');const X=Math.floor(x),Y=Math.floor(y);
 c.width=w;c.height=h;c.style.left=X+'px';c.style.top=Y+'px';c.style.width=w+'px';c.style.height=h+'px';document.body.appendChild(c);return [c,x-X,y-Y];}
function panel(col,row,w,datasets,text){const PL=37,PT=34,PB=32,PR=8;
 const [c,fx,fy]=addCanvas(COL_X[col]-PL,ROW_Y[row]-PT,Math.ceil(w+PL+PR),Math.ceil(PLOT_H+PT+PB));
 new Chart(c,{type:'scatter',data:{datasets},plugins:[panelText],options:{responsive:false,maintainAspectRatio:false,
  layout:{padding:{left:PL+fx,top:PT+fy,right:c.width-PL-fx-w,bottom:c.height-PT-fy-PLOT_H}},
  scales:{x:{type:'linear',display:false,min:LON_MIN,max:LON_MAX},y:{type:'linear',display:false,min:LAT_MIN,max:LAT_MAX,reverse:true}},
  plugins:{panelText:text}}});}
function heatSets(pts){return [{data:pts,order:3,pointRadius:1,pointBorderWidth:0,pointStyle:c=>c.raw?cellImage(c.raw.color):'circle'},
  {data:buoyPoints(),order:1,pointRadius:1.7,pointBorderWidth:0,pointBackgroundColor:'rgba(255,0,0,.68)',pointStyle:'circle'}];}
function colorbar(col,row,range,ticks,map,dec){const W=70,PL=4,PV=12;
 const [c,fx,fy]=addCanvas(CB_X[col]-PL,ROW_Y[row]-PV,Math.ceil(PL+CB_W+W),Math.ceil(PLOT_H+2*PV));
 new Chart(c,{type:'bar',data:{labels:['colour'],datasets:[{data:[range],barPercentage:1,categoryPercentage:1,borderWidth:0,
   backgroundColor:x=>{const a=x.chart.chartArea;if(!a)return '#fff';const g=x.chart.ctx.createLinearGradient(0,a.bottom,0,a.top);
    for(let i=0;i<=32;i++)g.addColorStop(i/32,map(i/32));return g;}}]},plugins:[panelText],
  options:{responsive:false,maintainAspectRatio:false,layout:{padding:{left:PL+fx,top:PV+fy,right:c.width-PL-fx-CB_W-W,bottom:c.height-PV-fy-PLOT_H}},
  scales:{x:{display:false},y:{position:'right',min:range[0],max:range[1],afterFit:s=>{s.width=W;s.paddingTop=0;s.paddingBottom=0;},
   afterBuildTicks:s=>{s.ticks=ticks.map(value=>({value}));},
   border:{display:false},grid:{drawOnChartArea:false,color:'#000',lineWidth:1.5,tickLength:9},
   ticks:{padding:10,labelOffset:1.5,color:'#000',font:{size:15.5,family:SERIF},autoSkip:false,maxRotation:0,callback:v=>(+v).toFixed(dec).replace('-','\u2212')}}},
  plugins:{panelText:{}}}});}

const LAT='Latitude', LON='Longitude';
// Row 0: vector fields
const blackGP=()=>arrowDataset(fieldArrows(FIELD_DIR,FIELD_LEN,2.8,bearing),'#000',.7,1.15,2);
const red=()=>arrowDataset(buoyArrows(),'#f00',1.8,4.4,1);
panel(0,0,WIDE_W,[blackGP(),red()],{title:'F, Helmholtz GP',ylabel:LAT});
panel(1,0,WIDE_W,[blackGP(),red()],{title:'F, Velocity GP'});
panel(2,0,WIDE_W,[arrowDataset(fieldArrows(DHNN_DIR,DHNN_LEN,4,clock),'#000',.8,1,2),red()],{title:'F, D-HNN'});
// Heat rows
const ROWS=[
 {row:1,name:'*\u03b4*',range:DELTA_RANGE,ticks:DELTA_TICKS,map:cool,dec:3,h:null,hv:DELTA_H_VALUE,v:DELTA_V,d:DELTA_D},
 {row:2,name:'*\u03b4* (std)',range:DSTD_RANGE,ticks:DSTD_TICKS,map:cool,dec:3,h:null,hv:DSTD_H_VALUE,v:DSTD_V},
 {row:3,name:'*\u03b4* (*z*-values)',range:DZ_RANGE,ticks:DZ_TICKS,map:cool,dec:0,h:null,hv:DZ_H_VALUE,v:DZ_V},
 {row:4,name:'*\u03b6*',range:ZETA_RANGE,ticks:ZETA_TICKS,map:plasma,dec:3,h:ZETA_H,v:ZETA_V,d:ZETA_D},
 {row:5,name:'*\u03b6* (std)',range:ZSTD_RANGE,ticks:ZSTD_TICKS,map:plasma,dec:3,h:ZSTD_H,v:ZSTD_V},
 {row:6,name:'*\u03b6* (*z*-values)',range:ZZ_RANGE,ticks:ZZ_TICKS,map:plasma,dec:0,h:ZZ_H,v:ZZ_V}];
ROWS.forEach(R=>{const last=R.row===6;
 panel(0,R.row,HEAT_W,heatSets(heatPoints(R.h,R.range,R.map,R.hv)),{title:R.name+', Helmholtz GP',ylabel:LAT,xlabel:last?LON:''});
 colorbar(0,R.row,R.range,R.ticks,R.map,R.dec);
 panel(1,R.row,HEAT_W,heatSets(heatPoints(R.v,R.range,R.map)),{title:R.name+', Velocity GP',xlabel:last?LON:''});
 colorbar(1,R.row,R.range,R.ticks,R.map,R.dec);
 if(R.d){panel(2,R.row,HEAT_W,heatSets(heatPoints(R.d,R.range,R.map)),{title:R.name+', D-HNN'});colorbar(2,R.row,R.range,R.ticks,R.map,R.dec);}
 else panel(2,R.row,WIDE_W,[],{xlabel:last?LON:''});
});
// Legend
(function(){const [c]=addCanvas(125.5,1559,1000,100);
 new Chart(c,{type:'bar',data:{labels:[],datasets:[{label:'predicted currents',data:[],backgroundColor:'#000',borderWidth:0},{label:'buoys\u2019 locations',data:[],backgroundColor:'#f00',borderWidth:0}]},
 options:{responsive:false,maintainAspectRatio:false,scales:{x:{display:false},y:{display:false}},
 plugins:{legend:{display:true,position:'top',labels:{boxWidth:31,boxHeight:11,padding:35,color:'#000',font:{size:15.5,family:SERIF}}}}}});})();
</script></body></html>
